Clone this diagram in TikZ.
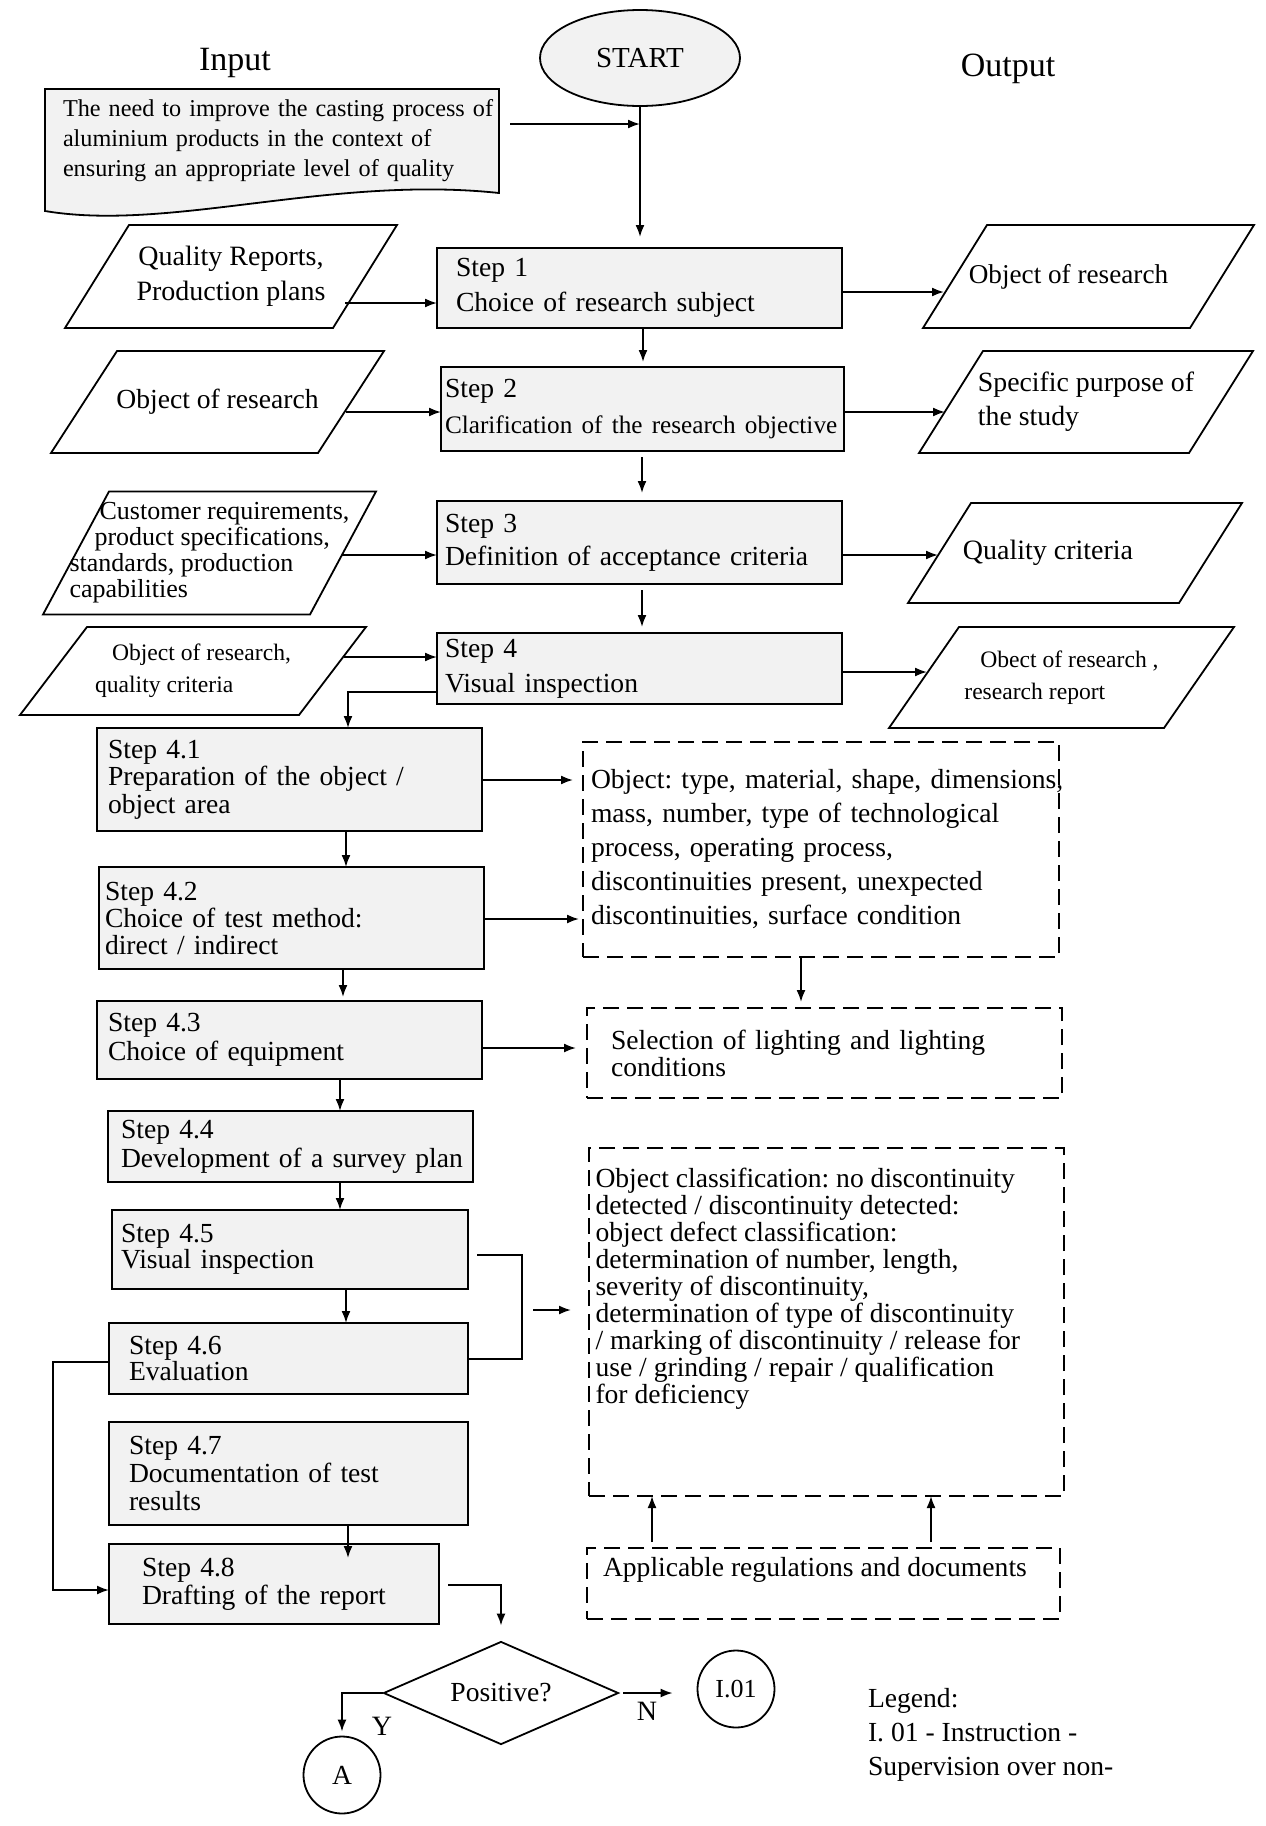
\documentclass[tikz,border=0pt]{standalone}
\usepackage{fontspec}
\setmainfont{Liberation Serif}
\usetikzlibrary{arrows.meta,shapes.geometric,calc}
\definecolor{boxgray}{HTML}{F2F2F2}
\newcommand\fsz[2]{\fontsize{#1}{#2}\selectfont}
\frenchspacing
\pgfdeclarelayer{bg}
\pgfsetlayers{bg,main}
\newcommand\drawpara[2]{\begin{pgfonlayer}{bg}\draw[paraline] ([xshift=#2]#1.north west) -- (#1.north east) -- ([xshift=-#2]#1.south east) -- (#1.south west) -- cycle;\end{pgfonlayer}}
\tikzset{
  base/.style={inner sep=0pt, outer sep=0pt},
  stepbox/.style={base, draw, line width=1pt, fill=boxgray, align=left},
  dbox/.style={base, draw, line width=0.9pt, dash pattern=on 8pt off 4pt, align=left},
  ptext/.style={base},
  paraline/.style={line width=0.9pt},
  conn/.style={line width=0.9pt},
  arr/.style={line width=0.9pt, -{Latex[length=6pt,width=4.5pt]}},
}
\begin{document}
\begin{tikzpicture}[x=0.5pt,y=-0.5pt]
\useasboundingbox (0,0) rectangle (1265,1826);

% titles
\node[base, font=\fsz{17}{20}] (tin) at (235,63) {Input};
\node[base, font=\fsz{17}{20}] (tout) at (1008,69) {Output};

% start
\node[ellipse, draw, line width=0.9pt, fill=boxgray, minimum width=100pt, minimum height=48pt, inner sep=0pt, font=\fsz{14.5}{17}] (start) at (640,58) {START};

% document
\node[base, minimum width=227pt, minimum height=52pt, inner xsep=9pt, text width=209pt, align=left, font=\fsz{12.1}{15}] (doc) at (272,141)
 {\mbox{The need to improve the casting process of}\\aluminium products in the context of\\ensuring an appropriate level of quality};
\begin{pgfonlayer}{bg}
\draw[line width=0.9pt, fill=boxgray] (doc.north west) -- (doc.north east) -- (doc.south east) .. controls (330,175) and (170,232) .. ([yshift=-9pt]doc.south west) -- cycle;
\end{pgfonlayer}

% main steps
\node[stepbox, minimum width=202.5pt, minimum height=40pt, inner xsep=9.5pt, text width=183.5pt, font=\fsz{13.8}{17.5}] (s1) at (639.5,288) {Step 1\\Choice of research subject};
\node[stepbox, minimum width=201.5pt, minimum height=42pt, inner xsep=2pt, text width=197.5pt, font=\fsz{13.8}{18}] (s2) at (642.5,409) {Step 2\\\mbox{\fsz{12.6}{18}Clarification of the research objective}};
\node[stepbox, minimum width=202.5pt, minimum height=41.5pt, inner xsep=4pt, text width=194.5pt, font=\fsz{13.8}{16.5}] (s3) at (639.5,542.5) {Step 3\\Definition of acceptance criteria};
\node[stepbox, minimum width=202.5pt, minimum height=35.5pt, inner xsep=4pt, text width=194.5pt, font=\fsz{13.8}{17.5}] (s4) at (639.5,668.5) {Step 4\\Visual inspection};

% inputs
\node[ptext, minimum width=166pt, minimum height=51.5pt, align=center, font=\fsz{14}{17.5}] (in1) at (231,276.5) {Quality Reports,\\Production plans};
\drawpara{in1}{32pt}
\node[ptext, minimum width=166.5pt, minimum height=51pt, align=center, font=\fsz{13.8}{17}] (in2) at (217.5,402) {Object of research};
\drawpara{in2}{33pt}
\node[ptext, minimum width=166.5pt, minimum height=61.5pt, align=left, font=\fsz{13}{13}] (in3) at (209.5,553) {\hspace*{15pt}Customer requirements,\\\hspace*{12.5pt}product specifications,\\standards, production\\capabilities};
\drawpara{in3}{33pt}
\node[ptext, minimum width=173pt, minimum height=44pt, align=left, font=\fsz{11.8}{16}] (in4) at (193,671) {\hspace*{8.5pt}Object of research,\\quality criteria};
\drawpara{in4}{33.5pt}

% outputs
\node[ptext, minimum width=165.5pt, minimum height=51.5pt, align=center, font=\fsz{13.6}{17}] (o1) at (1088.5,276.5) {\hspace*{-20pt}Object of research};
\drawpara{o1}{32pt}
\node[ptext, minimum width=167pt, minimum height=51pt, align=left, font=\fsz{13.9}{17}] (o2) at (1086,402) {Specific purpose of\\the study};
\drawpara{o2}{32pt}
\node[ptext, minimum width=167pt, minimum height=50pt, align=center, font=\fsz{14}{17}] (o3) at (1075,553) {\hspace*{-27pt}Quality criteria};
\drawpara{o3}{31.5pt}
\node[ptext, minimum width=172.5pt, minimum height=50.5pt, align=left, font=\fsz{11.8}{16}] (o4) at (1061.5,677.5) {\hspace*{8pt}Obect of research ,\\research report};
\drawpara{o4}{35pt}

% sub steps
\node[stepbox, minimum width=192.5pt, minimum height=51.5pt, inner xsep=5.5pt, text width=181.5pt, font=\fsz{13.8}{13.75}] (s41) at (289.5,779.5) {Step 4.1\\Preparation of the object /\\object area};
\node[stepbox, minimum width=192.5pt, minimum height=51pt, inner xsep=3pt, text width=186.5pt, font=\fsz{13.8}{13.5}] (s42) at (291.5,918) {Step 4.2\\Choice of test method:\\direct / indirect};
\node[stepbox, minimum width=192.5pt, minimum height=39pt, inner xsep=5.5pt, text width=181.5pt, font=\fsz{13.8}{14.5}] (s43) at (289.5,1040) {Step 4.3\\Choice of equipment};
\node[stepbox, minimum width=182.5pt, minimum height=35.5pt, inner xsep=6.5pt, text width=169.5pt, font=\fsz{13.8}{14.5}] (s44) at (290.5,1146.5) {Step 4.4\\\mbox{Development of a survey plan}};
\node[stepbox, minimum width=178pt, minimum height=39.5pt, inner xsep=4.5pt, text width=169pt, font=\fsz{13.8}{13}] (s45) at (290,1249.5) {Step 4.5\\Visual inspection};
\node[stepbox, minimum width=179.5pt, minimum height=35.5pt, inner xsep=10pt, text width=159.5pt, font=\fsz{13.8}{13}] (s46) at (288.5,1358.5) {Step 4.6\\Evaluation};
\node[stepbox, minimum width=179.5pt, minimum height=51.5pt, inner xsep=10pt, text width=159.5pt, font=\fsz{13.8}{14}] (s47) at (288.5,1473.5) {Step 4.7\\Documentation of test\\results};
\node[stepbox, minimum width=165pt, minimum height=40pt, inner xsep=16.5pt, text width=132pt, font=\fsz{13.8}{14}] (s48) at (274,1584) {Step 4.8\\Drafting of the report};

% dashed boxes
\node[dbox, minimum width=238pt, minimum height=107.5pt, inner xsep=4pt, text width=230pt, font=\fsz{13.8}{17}] (d1) at (821,849.5)
 {\mbox{Object: type, material, shape, dimensions,}\\mass, number, type of technological\\process, operating process,\\discontinuities present, unexpected\\discontinuities, surface condition};
\node[dbox, minimum width=237.5pt, minimum height=45pt, inner xsep=12pt, text width=213.5pt, font=\fsz{13.8}{12.5}] (d2) at (824.5,1053) {Selection of lighting and lighting\\conditions};
\node[dbox, minimum width=237.5pt, minimum height=174pt, font=\fsz{13.8}{13.5}] (d3) at (826.5,1322)
 {\parbox[c][174pt][t]{231pt}{\raggedright\vspace*{10pt}\mbox{Object classification: no discontinuity}\\detected / discontinuity detected:\\object defect classification:\\determination of number, length,\\severity of discontinuity,\\\mbox{determination of type of discontinuity}\\\mbox{/ marking of discontinuity / release for}\\use / grinding / repair / qualification\\for deficiency}};
\node[dbox, minimum width=236.5pt, minimum height=35.5pt, font=\fsz{13.8}{16}] (reg) at (823.5,1583.5)
 {\parbox[c][35.5pt][t]{220.5pt}{\raggedright\vspace*{4.5pt}Applicable regulations and documents}};

% decision and connectors
\node[diamond, draw, line width=0.9pt, aspect=2.28, minimum width=117.5pt, minimum height=51.5pt, inner sep=0pt, font=\fsz{13.8}{16}] (dia) at (501,1693) {Positive?};
\node[circle, draw, line width=0.9pt, minimum size=38.5pt, inner sep=0pt, font=\fsz{13.8}{16}] (A) at (342,1775) {A};
\node[circle, draw, line width=0.9pt, minimum size=38.5pt, inner sep=0pt, font=\fsz{13}{16}] (I01) at (736,1689) {I.01};
\node[base, font=\fsz{14}{16}] (ly) at (382,1726) {Y};
\node[base, font=\fsz{14}{16}] (ln) at (647,1711) {N};
\node[base, anchor=west, align=left, font=\fsz{13.8}{17}] (leg) at (868,1735) {Legend:\\I. 01 - Instruction -\\Supervision over non-};

% ---------- connectors ----------
\coordinate (j0) at (640,124);
\draw[arr, shorten <=5.5pt] (doc.east |- j0) -- (j0);
\draw[arr, shorten >=5.5pt] (start.south) -- (s1.north -| start.south);

\coordinate (a1) at (345,303);
\draw[arr] (a1) -- (s1.west |- a1);
\coordinate (b1) at (944,292);
\draw[arr] (s1.east |- b1) -- (b1);
\draw[arr, shorten >=2.5pt] (s1.south -| 643,0) -- (s2.north -| 643,0);

\coordinate (a2) at (346,412);
\draw[arr] (a2) -- (s2.west |- a2);
\coordinate (b2) at (945,412);
\draw[arr] (s2.east |- b2) -- (b2);
\draw[arr, shorten <=3pt, shorten >=4pt] (s2.south -| 642,0) -- (s3.north -| 642,0);

\coordinate (a3) at (342,555);
\draw[arr] (a3) -- (s3.west |- a3);
\coordinate (b3) at (938,555);
\draw[arr] (s3.east |- b3) -- (b3);
\draw[arr, shorten <=3pt, shorten >=3pt] (s3.south -| 642,0) -- (s4.north -| 642,0);

\coordinate (a4) at (344,657);
\draw[arr] (a4) -- (s4.west |- a4);
\coordinate (b4) at (927,672);
\draw[arr] (s4.east |- b4) -- (b4);
\draw[arr] (s4.west |- 0,692) -| (s41.north -| 348,0);

\draw[arr] (s41.south -| 346,0) -- (s42.north -| 346,0);
\draw[arr, shorten >=2pt] (s42.south -| 343,0) -- (s43.north -| 343,0);
\draw[arr] (s43.south -| 340,0) -- (s44.north -| 340,0);
\draw[arr] (s44.south -| 340,0) -- (s45.north -| 340,0);
\draw[arr] (s45.south -| 346,0) -- (s46.north -| 346,0);
\draw[arr, shorten >=-7pt] (s47.south -| 348,0) -- (s48.north -| 348,0);

\draw[arr, shorten >=5pt] (s41.east |- 0,780) -- (d1.west |- 0,780);
\draw[arr, shorten >=2pt] (s42.east |- 0,919) -- (d1.west |- 0,919);
\draw[arr, shorten >=3pt] (d1.south -| 801,0) -- (d2.north -| 801,0);
\draw[arr, shorten >=5.5pt] (s43.east |- 0,1048) -- (d2.west |- 0,1048);

\coordinate (br) at (522,1310);
\draw[conn] (s45.east |- 0,1255) ++(9,0) -| (br) |- (s46.east |- 0,1359);
\draw[arr, shorten >=9pt] ([xshift=5.5pt]br) -- (d3.west |- br);

\coordinate (lp) at (53,1362);
\draw[arr] (s46.west |- lp) -- (lp) |- (s48.west |- 0,1590);

\draw[arr, shorten <=3pt] (reg.north -| 652,0) -- (d3.south -| 652,0);
\draw[arr, shorten <=3pt] (reg.north -| 931,0) -- (d3.south -| 931,0);

\draw[arr, shorten <=4.5pt, shorten >=7.5pt] (s48.east |- 0,1585) -| (dia.north);
\draw[arr, shorten >=2pt] (dia.west) -| (A.north);
\draw[arr, shorten <=2pt, shorten >=12pt] (dia.east) -- (dia.east -| I01.west);
\end{tikzpicture}
\end{document}
